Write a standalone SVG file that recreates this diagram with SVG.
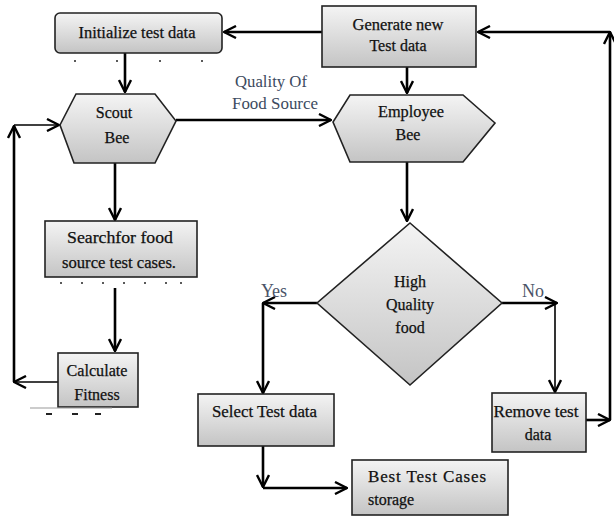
<svg xmlns="http://www.w3.org/2000/svg" width="614" height="516" viewBox="0 0 614 516">
<style>
.box{stroke:#222;stroke-width:1.6;fill:url(#g)}
.t{font-family:"Liberation Serif","Times New Roman",serif;font-size:16px;fill:#111;text-anchor:middle;stroke:#111;stroke-width:0.25}
.tl{font-family:"Liberation Serif","Times New Roman",serif;font-size:16px;fill:#111;stroke:#111;stroke-width:0.25}
.lbl{font-family:"Liberation Serif","Times New Roman",serif;font-size:16px;fill:#3c4a60;text-anchor:middle}
.yn{font-family:"Liberation Serif","Times New Roman",serif;font-size:18px;fill:#4b5468;text-anchor:middle}
.c{stroke:#000;stroke-width:2.6;fill:none}
.ct{stroke:#000;stroke-width:1.6;fill:none}
.dot{fill:#222}
</style>
<defs>
<linearGradient id="g" x1="0" y1="0" x2="0" y2="1">
<stop offset="0" stop-color="#f4f4f4"/>
<stop offset="1" stop-color="#c4c4c4"/>
</linearGradient>
<marker id="a" viewBox="0 0 14 14" refX="13" refY="7" markerWidth="14" markerHeight="14" markerUnits="userSpaceOnUse" orient="auto">
<path d="M1,1 L13,7 L1,13" fill="none" stroke="#000" stroke-width="2.4"/>
</marker>
</defs>

<g id="connectors">
<path class="c" d="M322,32 L224,32" marker-end="url(#a)"/>
<path class="c" d="M125,53 L125,92" marker-end="url(#a)"/>
<path class="c" d="M176,120 L331,120" marker-end="url(#a)"/>
<path class="c" d="M407,67 L407,93" marker-end="url(#a)"/>
<path class="c" d="M407,162 L407,221" marker-end="url(#a)"/>
<path class="c" d="M317,303 L263,303" marker-end="url(#a)"/>
<path class="c" d="M263,303 L263,393" marker-end="url(#a)"/>
<path class="c" d="M502,303 L557,303" marker-end="url(#a)"/>
<path class="ct" d="M555,303 L555,392" marker-end="url(#a)"/>
<path class="c" d="M586,420 L610,420" marker-end="url(#a)"/>
<path class="c" d="M610,420 L610,32" marker-end="url(#a)"/>
<path class="c" d="M610,32 L478,32" marker-end="url(#a)"/>
<path class="c" d="M115,163 L115,220" marker-end="url(#a)"/>
<path class="c" d="M115,288 L115,351" marker-end="url(#a)"/>
<path class="ct" d="M58,382 L14,382" marker-end="url(#a)"/>
<path class="c" d="M14,382 L14,126" marker-end="url(#a)"/>
<path class="ct" d="M14,125 L59,125" marker-end="url(#a)"/>
<path class="c" d="M263,446 L263,487" marker-end="url(#a)"/>
<path class="c" d="M263,488 L347,488" marker-end="url(#a)"/>
</g>

<g id="lbl-quality">
<text class="lbl" x="271" y="87" textLength="72" lengthAdjust="spacingAndGlyphs">Quality Of</text>
<text class="lbl" x="275" y="109" textLength="86" lengthAdjust="spacingAndGlyphs">Food Source</text>
</g>
<g id="lbl-yes"><text class="yn" x="274" y="297">Yes</text></g>
<g id="lbl-no"><text class="yn" x="533" y="297">No</text></g>

<g id="initialize">
<rect class="box" x="55" y="13" width="167" height="40" rx="5"/>
<text class="t" x="137" y="38" textLength="117" lengthAdjust="spacingAndGlyphs">Initialize test data</text>
<circle class="dot" cx="75" cy="61" r="1"/><circle class="dot" cx="117" cy="61" r="1"/><circle class="dot" cx="160" cy="61" r="1"/><circle class="dot" cx="202" cy="61" r="1"/>
</g>

<g id="generate">
<rect class="box" x="322" y="6" width="154" height="61"/>
<text class="t" x="398" y="30" textLength="91" lengthAdjust="spacingAndGlyphs">Generate new</text>
<text class="t" x="398" y="51">Test data</text>
</g>

<g id="scout">
<polygon class="box" points="76,94 155,94 176,121 155,163 74,163 60,125"/>
<text class="t" x="114" y="118">Scout</text>
<text class="t" x="117" y="143">Bee</text>
</g>

<g id="employee">
<polygon class="box" points="350,95 463,95 495,123 463,162 350,162 333,122"/>
<text class="t" x="411" y="117" textLength="66" lengthAdjust="spacingAndGlyphs">Employee</text>
<text class="t" x="408" y="140">Bee</text>
</g>

<g id="search">
<rect class="box" x="45" y="221" width="152" height="56"/>
<text class="t" x="120" y="243" textLength="106" lengthAdjust="spacingAndGlyphs">Searchfor food</text>
<text class="t" x="119" y="268" textLength="114" lengthAdjust="spacingAndGlyphs">source test cases.</text>
<circle class="dot" cx="61" cy="283" r="1"/><circle class="dot" cx="82" cy="283" r="1"/><circle class="dot" cx="103" cy="283" r="1"/><circle class="dot" cx="124" cy="283" r="1"/><circle class="dot" cx="145" cy="283" r="1"/><circle class="dot" cx="166" cy="283" r="1"/><circle class="dot" cx="181" cy="283" r="1"/>
</g>

<g id="calculate">
<rect class="box" x="58" y="353" width="80" height="54"/>
<text class="t" x="97" y="376" textLength="61" lengthAdjust="spacingAndGlyphs">Calculate</text>
<text class="t" x="97" y="400">Fitness</text>
<path d="M30,408 L112,408" stroke="#999" stroke-width="1"/>
<rect class="dot" x="46" y="413" width="6" height="2"/><rect class="dot" x="72" y="413" width="6" height="2"/><rect class="dot" x="95" y="413" width="6" height="2"/>
</g>

<g id="decision">
<polygon class="box" points="410,223 502,303 410,385 317,303"/>
<text class="t" x="410" y="287">High</text>
<text class="t" x="410" y="310">Quality</text>
<text class="t" x="410" y="333">food</text>
</g>

<g id="select">
<rect class="box" x="198" y="394" width="136" height="52"/>
<text class="tl" x="212" y="417" textLength="105" lengthAdjust="spacingAndGlyphs">Select Test data</text>
</g>

<g id="remove">
<rect class="box" x="492" y="393" width="94" height="59"/>
<text class="t" x="536" y="417" textLength="85" lengthAdjust="spacingAndGlyphs">Remove test</text>
<text class="t" x="538" y="440">data</text>
</g>

<g id="best">
<rect class="box" x="352" y="460" width="156" height="55"/>
<text class="tl" x="368" y="482" style="font-size:17px" textLength="118" lengthAdjust="spacing">Best Test Cases</text>
<text class="tl" x="368" y="505">storage</text>
</g>
</svg>
